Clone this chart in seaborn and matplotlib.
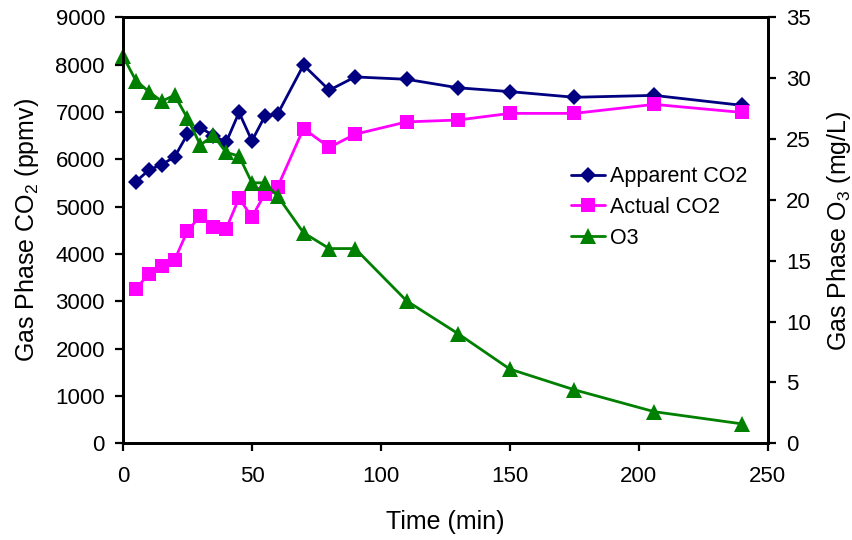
import matplotlib
matplotlib.use("Agg")
import matplotlib.pyplot as plt
import seaborn as sns

# time points (min)
time_o3 = [0, 5, 10, 15, 20, 25, 30, 35, 40, 45, 50, 55, 60, 70, 80, 90, 110, 130, 150, 175, 206, 240]
time_co2 = time_o3[1:]

# gas phase CO2 (ppmv)
apparent_co2 = [5530, 5770, 5890, 6050, 6530, 6670, 6500, 6360, 6990, 6390, 6910, 6960,
                7990, 7460, 7740, 7690, 7510, 7430, 7310, 7350, 7140]
actual_co2 = [3260, 3580, 3750, 3870, 4490, 4800, 4580, 4530, 5180, 4780, 5270, 5420,
              6650, 6250, 6530, 6790, 6830, 6970, 6970, 7160, 6990]

# gas phase O3 (mg/L)
o3 = [31.8, 29.8, 28.9, 28.1, 28.6, 26.7, 24.5, 25.3, 23.9, 23.6, 21.4, 21.4, 20.3,
      17.3, 16.0, 16.0, 11.7, 9.0, 6.1, 4.4, 2.6, 1.6]

sns.set_theme(style="white")
plt.rcParams['font.family'] = ['Liberation Sans', 'DejaVu Sans']
plt.rcParams['mathtext.default'] = 'regular'
plt.rcParams.update({'text.color': 'black', 'axes.labelcolor': 'black',
                     'xtick.color': 'black', 'ytick.color': 'black'})

fig = plt.figure(figsize=(8.53, 5.4), dpi=100)
ax = fig.add_axes([0.1442, 0.179, 0.9 - 0.1442, 0.968 - 0.179])
ax2 = ax.twinx()

sns.lineplot(x=time_co2, y=apparent_co2, ax=ax, color='#000080', marker='D',
             markersize=8.5, markeredgewidth=0, linewidth=2, label='Apparent CO2', legend=False)
sns.lineplot(x=time_co2, y=actual_co2, ax=ax, color='#FF00FF', marker='s',
             markersize=10, markeredgewidth=0, linewidth=2, label='Actual CO2', legend=False)
sns.lineplot(x=time_o3, y=o3, ax=ax2, color='#008000', marker='^', clip_on=False,
             markersize=11, markeredgewidth=0, linewidth=2, label='O3', legend=False)

ax.set_xlim(0, 250)
ax.set_ylim(0, 9000)
ax2.set_ylim(0, 35)
ax.set_xticks(range(0, 251, 50))
ax.set_yticks(range(0, 9001, 1000))
ax2.set_yticks(range(0, 36, 5))

ax.set_xlabel('Time (min)', fontsize=18, labelpad=17)
ax.set_ylabel('Gas Phase CO$_2$ (ppmv)', fontsize=18, labelpad=10)
ax2.set_ylabel('Gas Phase O$_3$ (mg/L)', fontsize=18, labelpad=10)

for a in (ax, ax2):
    for sp in a.spines.values():
        sp.set_linewidth(2)
        sp.set_color('black')
    a.tick_params(direction='out', length=6, width=1.6, labelsize=16, color='black', pad=7)
ax.tick_params(left=True, bottom=True)
ax.tick_params(axis='x', pad=10)
ax2.tick_params(right=True)
ax.grid(False)
ax2.grid(False)

h1, l1 = ax.get_legend_handles_labels()
h2, l2 = ax2.get_legend_handles_labels()
ax2.legend(h1 + h2, l1 + l2, loc='upper left', bbox_to_anchor=(0.669, 0.692),
           bbox_transform=fig.transFigure, frameon=False, fontsize=15.5,
           borderpad=0, borderaxespad=0, handlelength=1.6, handletextpad=0.25,
           labelspacing=0.45)

fig.savefig('out.png', dpi=100)
